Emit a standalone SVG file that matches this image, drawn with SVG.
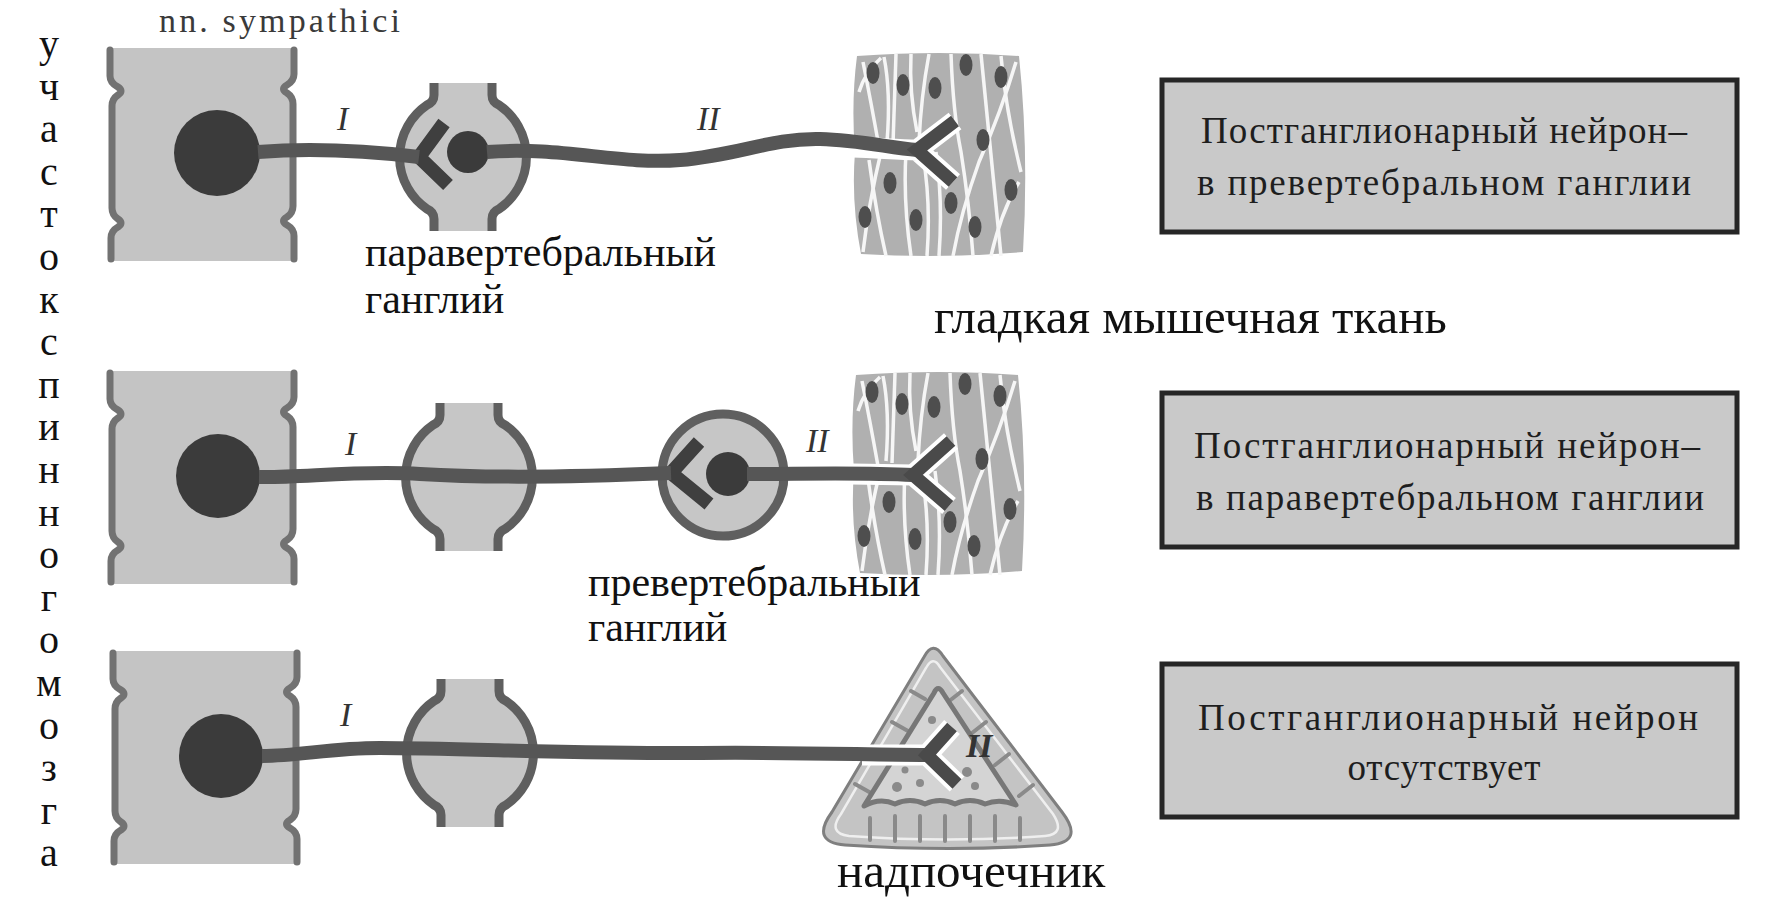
<svg xmlns="http://www.w3.org/2000/svg" xmlns:xlink="http://www.w3.org/1999/xlink" width="1782" height="903" viewBox="0 0 1782 903">
<style>
  .serif { font-family: "Liberation Serif", "Times New Roman", serif; }
  .vert { font-family: "Liberation Serif", serif; font-size: 40px; fill: #111; text-anchor: middle; }
  .lbl { font-family: "Liberation Serif", serif; font-size: 42px; fill: #111; }
  .big { font-family: "Liberation Serif", serif; font-size: 49px; fill: #111; }
  .roman { font-family: "Liberation Serif", serif; font-style: italic; font-size: 34px; fill: #333; }
  .boxtxt { font-family: "Liberation Serif", serif; font-size: 37px; fill: #1e1e1e; text-anchor: middle; }
  .box { fill: #c9c9c9; stroke: #262626; stroke-width: 5; }
  .segfill { fill: #c4c4c4; }
  .segedge { fill: none; stroke: #727272; stroke-width: 7; stroke-linecap: round; }
  .soma { fill: #3b3b3b; }
  .gfill { fill: #c6c6c6; }
  .gedge { fill: none; stroke: #5f5f5f; stroke-width: 9; }
  .axon { fill: none; stroke: #565656; stroke-width: 14; stroke-linecap: butt; stroke-linejoin: round; }
  .term { fill: none; stroke: #4a4a4a; stroke-width: 13; stroke-linecap: butt; stroke-linejoin: miter; stroke-miterlimit: 6; }
  .halo { fill: none; stroke: #ffffff; stroke-width: 21; stroke-linecap: butt; stroke-linejoin: miter; stroke-miterlimit: 6; }
  .syn { fill: none; stroke: #3f3f3f; stroke-width: 14; stroke-linecap: butt; stroke-linejoin: miter; stroke-miterlimit: 6; }
  .mline { fill: none; stroke: #f6f6f6; stroke-width: 3.5; }
  .nuc { fill: #4e4e4e; }
  .stri { fill: none; stroke: #8a8a8a; stroke-width: 4; stroke-linecap: round; }
  .blob { fill: #8a8a8a; }
</style>
<defs>
  <symbol id="seg" overflow="visible">
    <path class="segfill" d="M 2,0 L 186,0 L 186,26 Q 186,33 179,37 Q 172,41 179,45 Q 185,49 185,56 L 185,158 Q 185,165 179,169 Q 172,173 179,177 Q 186,181 186,188 L 186,213 L 3,213 L 3,190 Q 3,183 10,179 Q 16,175 10,171 Q 4,167 4,160 L 4,58 Q 4,51 10,47 Q 16,43 10,39 Q 2,35 2,28 Z"/>
    <path class="segedge" d="M 2,2 L 2,28 Q 2,35 10,39 Q 16,43 10,47 Q 4,51 4,58 L 4,160 Q 4,167 10,171 Q 16,175 10,179 Q 3,183 3,190 L 3,211"/>
    <path class="segedge" d="M 186,2 L 186,26 Q 186,33 179,37 Q 172,41 179,45 Q 185,49 185,56 L 185,158 Q 185,165 179,169 Q 172,173 179,177 Q 186,181 186,188 L 186,211"/>
  </symbol>
  <symbol id="gang" overflow="visible">
    <path class="gfill" d="M -29,-74 L 29,-74 L 29,-62 Q 29,-55 36,-52 A 63 63 0 0 1 36,52 Q 29,55 29,62 L 29,74 L -29,74 L -29,62 Q -29,55 -36,52 A 63 63 0 0 1 -36,-52 Q -29,-55 -29,-62 Z"/>
    <path class="gedge" d="M -29,-74 L -29,-62 Q -29,-55 -36,-52 A 63 63 0 0 0 -36,52 Q -29,55 -29,62 L -29,74"/>
    <path class="gedge" d="M 29,-74 L 29,-62 Q 29,-55 36,-52 A 63 63 0 0 1 36,52 Q 29,55 29,62 L 29,74"/>
  </symbol>
  <symbol id="muscle" overflow="visible">
    <path fill="#b0b0b0" d="M 6,4 Q 90,-2 168,4 Q 178,100 172,200 Q 90,207 10,202 Q 0,150 4,100 Q 0,50 6,4 Z"/>
    <path class="mline" d="M 12,10 Q 20,50 28,95"/>
    <path class="mline" d="M 8,40 Q 14,20 30,6"/>
    <path class="mline" d="M 45,2 L 42,92"/>
    <path class="mline" d="M 33,5 Q 40,40 36,90"/>
    <path class="mline" d="M 78,2 Q 70,45 68,90"/>
    <path class="mline" d="M 100,2 Q 102,60 110,100 Q 118,150 122,204"/>
    <path class="mline" d="M 130,2 Q 140,100 150,204"/>
    <path class="mline" d="M 165,10 Q 150,60 128,110 Q 110,160 102,204"/>
    <path class="mline" d="M 150,4 Q 155,60 170,120"/>
    <path class="mline" d="M 18,108 Q 25,160 35,204"/>
    <path class="mline" d="M 55,100 Q 52,150 60,204"/>
    <path class="mline" d="M 85,100 Q 92,150 88,204"/>
    <path class="mline" d="M 60,2 Q 58,40 66,80"/>
    <path class="mline" d="M 30,100 Q 18,150 12,200"/>
    <path class="mline" d="M 168,130 Q 150,160 140,204"/>
    <path class="mline" d="M 72,104 Q 80,150 76,204"/>
    <ellipse class="nuc" cx="22" cy="21" rx="6.5" ry="11"/>
    <ellipse class="nuc" cx="52" cy="33" rx="6.5" ry="11"/>
    <ellipse class="nuc" cx="84" cy="36" rx="6.5" ry="11"/>
    <ellipse class="nuc" cx="115" cy="13" rx="6.5" ry="11"/>
    <ellipse class="nuc" cx="150" cy="25" rx="6.5" ry="11"/>
    <ellipse class="nuc" cx="132" cy="88" rx="6.5" ry="11"/>
    <ellipse class="nuc" cx="160" cy="138" rx="6.5" ry="11"/>
    <ellipse class="nuc" cx="39" cy="131" rx="6.5" ry="11"/>
    <ellipse class="nuc" cx="14" cy="165" rx="6.5" ry="11"/>
    <ellipse class="nuc" cx="65" cy="168" rx="6.5" ry="11"/>
    <ellipse class="nuc" cx="100" cy="151" rx="6.5" ry="11"/>
    <ellipse class="nuc" cx="124" cy="175" rx="6.5" ry="11"/>
  </symbol>
</defs>

<rect width="1782" height="903" fill="#ffffff"/>

<text class="serif" x="159" y="32" font-size="34" fill="#3a3a3a" textLength="241" lengthAdjust="spacing">nn. sympathici</text>

<g id="vertical-label">
  <text class="vert">
    <tspan x="49" y="57">у</tspan><tspan x="49" y="99.6">ч</tspan><tspan x="49" y="142.2">а</tspan><tspan x="49" y="184.8">с</tspan><tspan x="49" y="227.4">т</tspan><tspan x="49" y="270">о</tspan><tspan x="49" y="312.6">к</tspan><tspan x="49" y="355.2">с</tspan><tspan x="49" y="397.8">п</tspan><tspan x="49" y="440.4">и</tspan><tspan x="49" y="483">н</tspan><tspan x="49" y="525.6">н</tspan><tspan x="49" y="568.2">о</tspan><tspan x="49" y="610.8">г</tspan><tspan x="49" y="653.4">о</tspan><tspan x="49" y="696">м</tspan><tspan x="49" y="738.6">о</tspan><tspan x="49" y="781.2">з</tspan><tspan x="49" y="823.8">г</tspan><tspan x="49" y="866.4">а</tspan>
  </text>
</g>

<!-- Row 1 -->
<g id="spinal-1">
  <use xlink:href="#seg" x="108" y="48"/>
  <circle class="soma" cx="217" cy="153" r="43"/>
</g>
<g id="paravertebral-ganglion-1">
  <use xlink:href="#gang" x="463" y="157"/>
  <path class="syn" d="M 444,123 L 419,157 L 448,185"/>
  <circle class="soma" cx="468" cy="152" r="21"/>
</g>
<g id="label-paravertebral">
  <text class="lbl" x="365" y="266">паравертебральный</text>
  <text class="lbl" x="365" y="313">ганглий</text>
</g>
<g id="muscle-1">
  <use xlink:href="#muscle" x="851" y="52"/>
</g>
<g id="label-muscle">
  <text class="big" x="934" y="333">гладкая мышечная ткань</text>
</g>
<g id="box-1">
  <rect class="box" x="1162" y="80" width="575" height="152"/>
  <text class="boxtxt" x="1444" y="143" textLength="486" lengthAdjust="spacing">Постганглионарный нейрон–</text>
  <text class="boxtxt" x="1444" y="195" textLength="494" lengthAdjust="spacing">в превертебральном ганглии</text>
</g>

<!-- Row 2 -->
<g id="spinal-2">
  <use xlink:href="#seg" x="108" y="371"/>
  <circle class="soma" cx="218" cy="476" r="42"/>
</g>
<g id="paravertebral-ganglion-2">
  <use xlink:href="#gang" x="469" y="477"/>
</g>
<g id="prevertebral-ganglion-2">
  <circle cx="723" cy="475" r="61" fill="#c6c6c6" stroke="#5f5f5f" stroke-width="9"/>
  <path class="syn" d="M 699,442 L 671,473 L 709,504"/>
  <circle class="soma" cx="728" cy="474" r="22"/>
</g>
<g id="label-prevertebral">
  <text class="lbl" x="588" y="596">превертебральный</text>
  <text class="lbl" x="588" y="641">ганглий</text>
</g>
<g id="muscle-2">
  <use xlink:href="#muscle" x="850" y="371"/>
</g>
<g id="box-2">
  <rect class="box" x="1162" y="393" width="575" height="154"/>
  <text class="boxtxt" x="1447" y="458" textLength="506" lengthAdjust="spacing">Постганглионарный нейрон–</text>
  <text class="boxtxt" x="1450" y="510" textLength="508" lengthAdjust="spacing">в паравертебральном ганглии</text>
</g>

<!-- Row 3 -->
<g id="spinal-3">
  <use xlink:href="#seg" x="111" y="651"/>
  <circle class="soma" cx="221" cy="756" r="42"/>
</g>
<g id="paravertebral-ganglion-3">
  <use xlink:href="#gang" x="470" y="753"/>
</g>
<g id="adrenal">
  <path d="M 924,657 Q 933,640 943,656 L 1062,812 Q 1085,842 1050,845 Q 950,852 845,845 Q 810,842 832,812 Z" fill="#c4c4c4" stroke="#7f7f7f" stroke-width="3" stroke-linejoin="round"/>
  <path d="M 926,668 Q 933,655 940,667 L 1053,814 Q 1066,834 1045,836 Q 950,843 849,836 Q 827,833 841,814 Z" fill="none" stroke="#efefef" stroke-width="2.5"/>
  <path class="stri" d="M 855,784 L 871,793 M 874,753 L 890,762 M 892,722 L 908,731 M 911,691 L 925,699 M 962,691 L 948,702 M 986,722 L 972,733 M 1009,754 L 995,765 M 1033,785 L 1019,796 M 870,840 L 870,818 M 895,841 L 895,816 M 920,841 L 920,816 M 945,841 L 945,816 M 970,841 L 970,816 M 995,841 L 995,816 M 1020,840 L 1020,818"/>
  <path d="M 934,693 Q 938,684 943,693 L 1016,805 Q 1000,798 985,804 Q 970,797 955,804 Q 940,797 925,804 Q 910,797 895,804 Q 880,797 864,806 Z" fill="#d4d4d4" stroke="#777777" stroke-width="5" stroke-linejoin="round"/>
  <circle class="blob" cx="897" cy="787" r="5"/>
  <circle class="blob" cx="920" cy="783" r="4"/>
  <circle class="blob" cx="932" cy="720" r="4"/>
  <circle class="blob" cx="967" cy="772" r="5"/>
  <circle class="blob" cx="975" cy="786" r="4"/>
  <circle class="blob" cx="905" cy="770" r="3.5"/>
</g>
<g id="label-adrenal">
  <text class="big" x="837" y="887">надпочечник</text>
</g>
<g id="box-3">
  <rect class="box" x="1162" y="664" width="575" height="153"/>
  <text class="boxtxt" x="1448" y="730" textLength="500" lengthAdjust="spacing">Постганглионарный нейрон</text>
  <text class="boxtxt" x="1444" y="780" textLength="193" lengthAdjust="spacing">отсутствует</text>
</g>

<!-- Connectors: nerve fibres -->
<g id="connectors">
  <path class="halo" d="M 853,147 C 880,148 900,150 917,150 M 955,121 L 917,150 L 953,182"/>
  <path class="halo" d="M 852,474 L 913,475 M 951,441 L 913,475 L 949,506"/>
  <path class="halo" d="M 862,755 L 927,755 M 952,727 L 927,755 L 957,784"/>

  <path class="axon" d="M 258,152 C 310,148 360,150 419,157"/>
  <path class="axon" d="M 487,152 C 560,146 620,165 680,160 C 740,155 770,138 820,139 C 860,140 890,148 917,150"/>
  <path class="term" d="M 955,121 L 917,150 L 953,182"/>

  <path class="axon" d="M 259,477 C 300,478 360,470 420,474 C 500,479 600,476 671,473"/>
  <path class="axon" d="M 747,474 C 800,474 860,472 913,475"/>
  <path class="term" d="M 951,441 L 913,475 L 949,506"/>

  <path class="axon" d="M 262,756 C 300,756 330,748 380,748 C 450,748 600,754 700,753 C 800,752 870,755 927,755"/>
  <path class="term" d="M 952,727 L 927,755 L 957,784"/>
</g>

<g id="fibre-labels">
  <text class="roman" x="337" y="130">I</text>
  <text class="roman" x="697" y="130">II</text>
  <text class="roman" x="345" y="455">I</text>
  <text class="roman" x="806" y="452">II</text>
  <text class="roman" x="340" y="726">I</text>
  <text class="roman" x="966" y="757" font-size="22" font-weight="bold">II</text>
</g>
</svg>
